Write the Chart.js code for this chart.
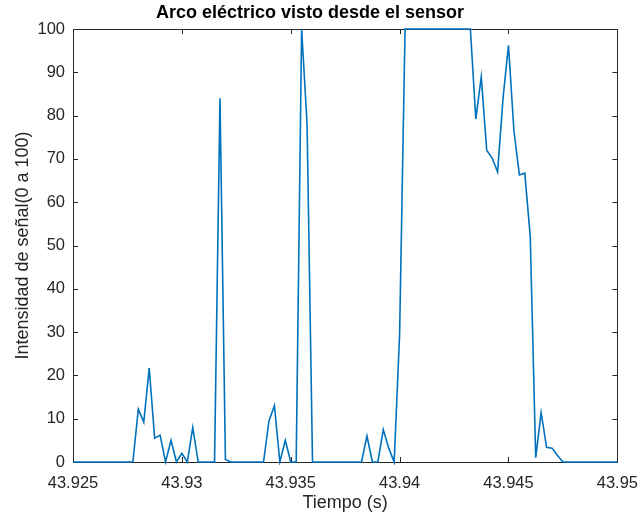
<!DOCTYPE html>
<html>
<head>
<meta charset="utf-8">
<script src="https://cdn.jsdelivr.net/npm/chart.js@4"></script>
<style>
  html, body { margin: 0; padding: 0; background: #fff; }
  #wrap { width: 642px; height: 516px; }
</style>
</head>
<body>
<div id="wrap"><canvas id="arco"></canvas></div>
<script>
// muestras del sensor (s)
const tiempos = [
    43.92500, 43.92525, 43.92550, 43.92575,
    43.92600, 43.92625, 43.92650, 43.92675,
    43.92700, 43.92725, 43.92750, 43.92775,
    43.92800, 43.92825, 43.92850, 43.92875,
    43.92900, 43.92925, 43.92950, 43.92975,
    43.93000, 43.93025, 43.93050, 43.93075,
    43.93100, 43.93125, 43.93150, 43.93175,
    43.93200, 43.93225, 43.93250, 43.93275,
    43.93300, 43.93325, 43.93350, 43.93375,
    43.93400, 43.93425, 43.93450, 43.93475,
    43.93500, 43.93525, 43.93550, 43.93575,
    43.93600, 43.93625, 43.93650, 43.93675,
    43.93700, 43.93725, 43.93750, 43.93775,
    43.93800, 43.93825, 43.93850, 43.93875,
    43.93900, 43.93925, 43.93950, 43.93975,
    43.94000, 43.94025, 43.94050, 43.94075,
    43.94100, 43.94125, 43.94150, 43.94175,
    43.94200, 43.94225, 43.94250, 43.94275,
    43.94300, 43.94325, 43.94350, 43.94375,
    43.94400, 43.94425, 43.94450, 43.94475,
    43.94500, 43.94525, 43.94550, 43.94575,
    43.94600, 43.94625, 43.94650, 43.94675,
    43.94700, 43.94725, 43.94750, 43.94775,
    43.94800, 43.94825, 43.94850, 43.94875,
    43.94900, 43.94925, 43.94950, 43.94975,
    43.95000
];

// intensidad (0 a 100)
const intensidad = [
    0, 0, 0, 0,
    0, 0, 0, 0,
    0, 0, 0, 0,
    12.2, 9.2, 21.7, 5.5,
    6.2, 0, 5.0, 0,
    2.0, 0, 8.0, 0,
    0, 0, 0, 84,
    0.6, 0, 0, 0,
    0, 0, 0, 0,
    9.5, 13.0, 0, 5.0,
    0, 0, 100, 78,
    0, 0, 0, 0,
    0, 0, 0, 0,
    0, 0, 6.0, 0,
    0, 7.5, 3.2, 0,
    29.5, 100, 100, 100,
    100, 100, 100, 100,
    100, 100, 100, 100,
    100, 100, 79.2, 89,
    72, 70.2, 67, 84,
    96.2, 76.5, 66.3, 66.7,
    52, 1.0, 11.4, 3.4,
    3.2, 1.5, 0, 0,
    0, 0, 0, 0,
    0, 0, 0, 0,
    0
];

const xTicks = [43.925, 43.93, 43.935, 43.94, 43.945, 43.95];
const yTicks = [0, 10, 20, 30, 40, 50, 60, 70, 80, 90, 100];

const ink = '#262626';
const fontFam = "'Liberation Sans', Arial, sans-serif";

// caja estilo MATLAB con marcas hacia dentro
const boxPlugin = {
    id: 'box',
    beforeDatasetsDraw(chart) {
        const { ctx, chartArea: a, scales } = chart;
        const len = 5;
        ctx.save();
        ctx.strokeStyle = ink;
        ctx.lineWidth = 1;
        ctx.beginPath();
        xTicks.forEach(v => {
            const px = Math.round(scales.x.getPixelForValue(v)) + 0.5;
            ctx.moveTo(px, a.bottom); ctx.lineTo(px, a.bottom - len);
            ctx.moveTo(px, a.top); ctx.lineTo(px, a.top + len);
        });
        yTicks.forEach(v => {
            const py = Math.round(scales.y.getPixelForValue(v)) + 0.5;
            ctx.moveTo(a.left, py); ctx.lineTo(a.left + len, py);
            ctx.moveTo(a.right, py); ctx.lineTo(a.right - len, py);
        });
        ctx.stroke();
        ctx.strokeRect(Math.round(a.left) + 0.5, Math.round(a.top) + 0.5,
            Math.round(a.right - a.left), Math.round(a.bottom - a.top));
        ctx.restore();
    }
};

new Chart(document.getElementById('arco'), {
    type: 'line',
    data: {
        datasets: [{
            data: tiempos.map((t, i) => ({ x: t, y: intensidad[i] })),
            borderColor: '#0072BD',
            borderWidth: 1.6,
            pointRadius: 0,
            tension: 0,
            fill: false,
            clip: 3
        }]
    },
    options: {
        responsive: true,
        maintainAspectRatio: false,
        animation: false,
        layout: { padding: { left: 0, right: 22, top: 0, bottom: 0 } },
        plugins: {
            legend: { display: false },
            tooltip: { enabled: false },
            title: {
                display: true,
                text: 'Arco eléctrico visto desde el sensor',
                color: '#000',
                font: { family: fontFam, size: 18, weight: 'bold', lineHeight: 1.2 },
                padding: { top: 2, bottom: 5.4 }
            }
        },
        scales: {
            x: {
                type: 'linear',
                min: 43.925,
                max: 43.95,
                afterFit: s => { s.height = 54; },
                afterBuildTicks: s => { s.ticks = xTicks.map(v => ({ value: v })); },
                grid: { display: false },
                border: { display: false },
                ticks: {
                    color: ink,
                    font: { family: fontFam, size: 16.5 },
                    padding: 4,
                    maxRotation: 0,
                    callback: v => parseFloat(v.toFixed(3)).toString()
                },
                title: {
                    display: true,
                    text: 'Tiempo (s)',
                    color: ink,
                    font: { family: fontFam, size: 18 },
                    padding: { top: 0, bottom: 2 }
                }
            },
            y: {
                min: 0,
                max: 100,
                afterFit: s => { s.width = 73; },
                afterBuildTicks: s => { s.ticks = yTicks.map(v => ({ value: v })); },
                grid: { display: false },
                border: { display: false },
                ticks: {
                    color: ink,
                    font: { family: fontFam, size: 16.5 },
                    padding: 0
                },
                title: {
                    display: true,
                    text: 'Intensidad de señal(0 a 100)',
                    color: ink,
                    font: { family: fontFam, size: 18 },
                    padding: { top: 12, bottom: 0 }
                }
            }
        }
    },
    plugins: [boxPlugin]
});
</script>
</body>
</html>
